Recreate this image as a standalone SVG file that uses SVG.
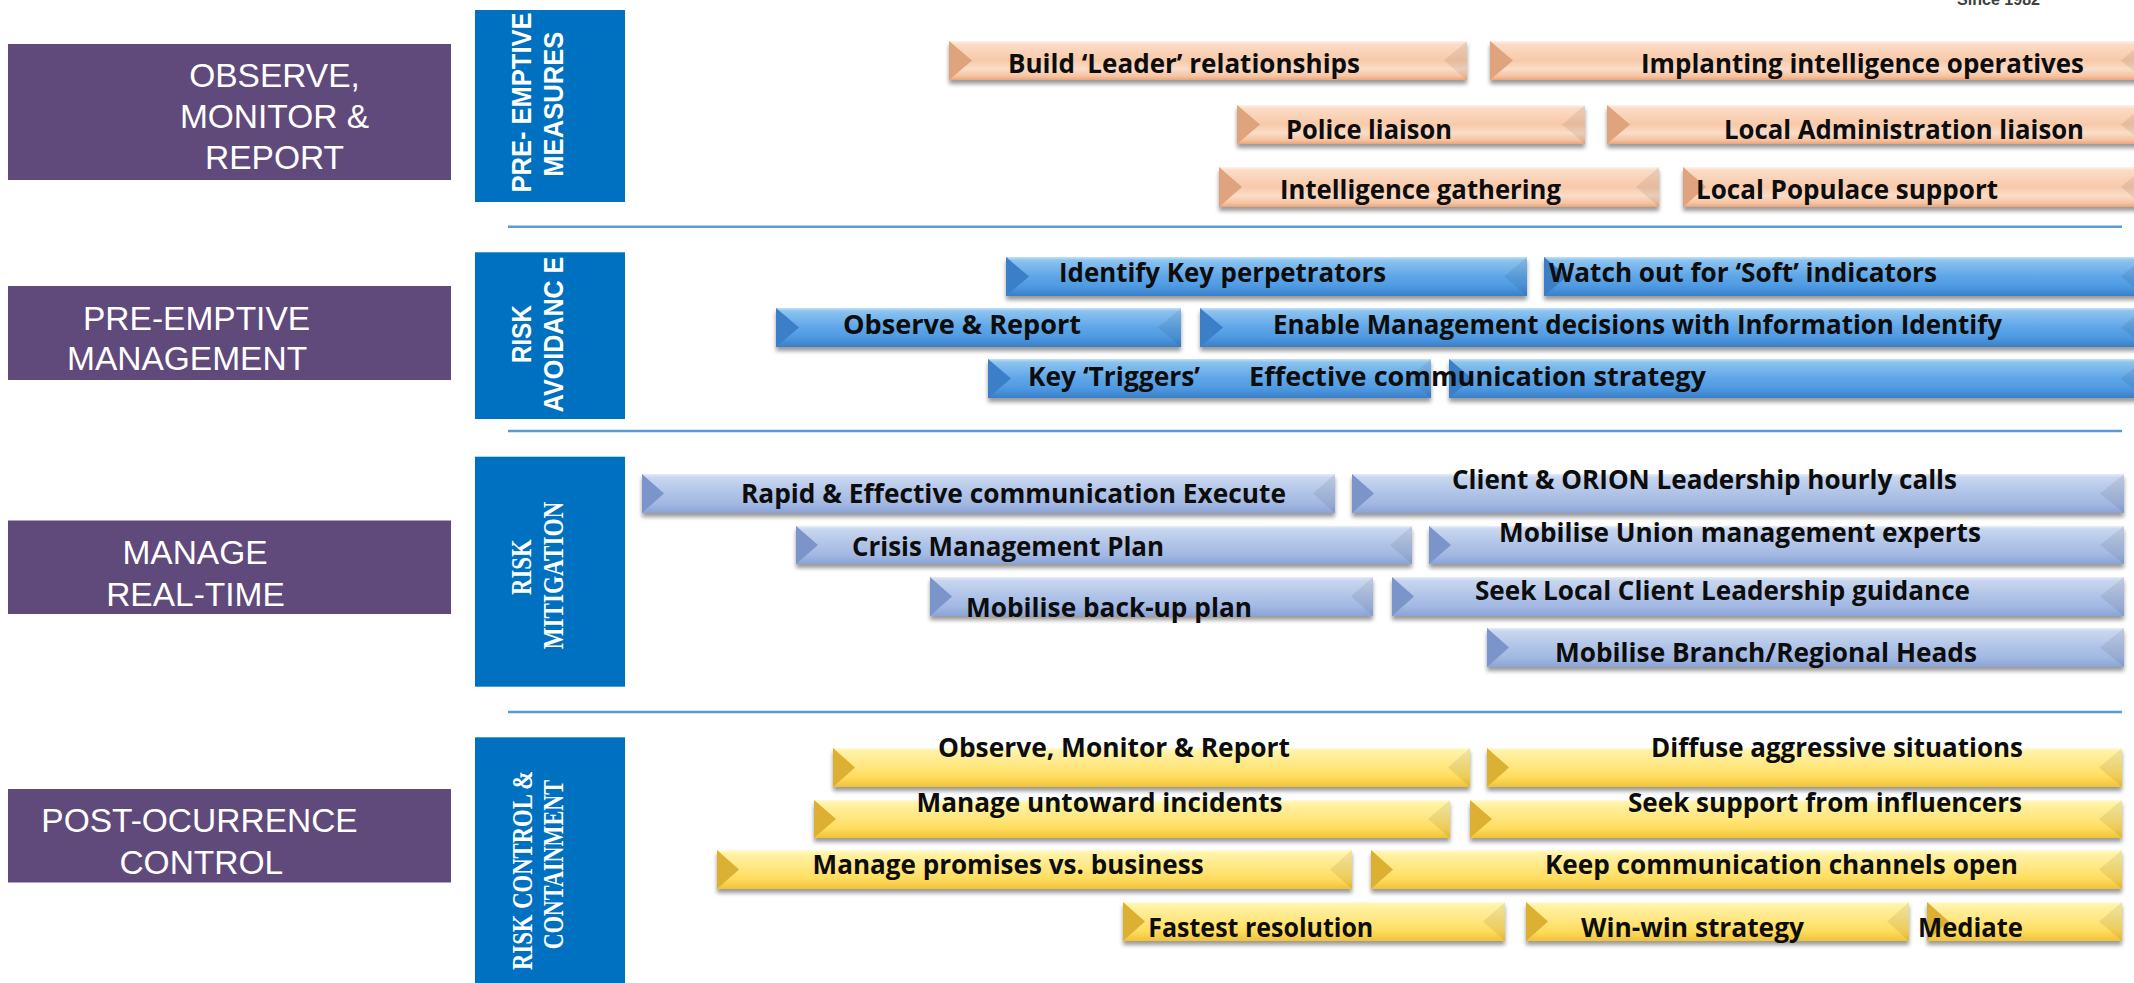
<svg xmlns="http://www.w3.org/2000/svg" width="2134" height="983" viewBox="0 0 2134 983">
<defs>
<style>
.stage rect{fill:#604A7B}
.stage text{font-family:"Liberation Sans",Arial,sans-serif;font-size:33.5px;fill:#fff}
.tag rect{fill:#0070C0}
.tag text{fill:#fff;font-weight:bold;text-anchor:middle}
.tag .ss{font-family:"Liberation Sans",Arial,sans-serif;font-size:28.5px}
.tag .sf{font-family:"Liberation Serif","Times New Roman",serif;font-size:30px}
.sep line{stroke:#5B9BD5;stroke-width:2.5}
.bar .face{filter:url(#sh)}
.bar .rb{fill:#000;fill-opacity:0.07}
.bar text{font-family:"Open Sans","Noto Sans",sans-serif;font-weight:bold;font-size:27px;fill:#0d0d0d}
.peach .face{fill:url(#gPeach)} .peach .lb{fill:#DFA37D}
.blue .face{fill:url(#gBlue)} .blue .lb{fill:#3A7FC8}
.steel .face{fill:url(#gSteel)} .steel .lb{fill:#7B94CA}
.yel .face{fill:url(#gYel)} .yel .lb{fill:#DCB033}
</style>
<filter id="sh" x="-5%" y="-30%" width="110%" height="190%">
<feDropShadow dx="0" dy="4" stdDeviation="2.2" flood-color="#000" flood-opacity="0.4"/>
</filter>
<linearGradient id="gPeach" x1="0" y1="0" x2="0" y2="1">
<stop offset="0" stop-color="#FEF3EA"/><stop offset="0.08" stop-color="#FBDCC6"/><stop offset="0.5" stop-color="#F8C9A9"/><stop offset="0.72" stop-color="#FADDC9"/><stop offset="0.9" stop-color="#F6C3A0"/><stop offset="1" stop-color="#E9A57C"/>
</linearGradient>
<linearGradient id="gBlue" x1="0" y1="0" x2="0" y2="1">
<stop offset="0" stop-color="#C4E1F8"/><stop offset="0.08" stop-color="#8CC3EF"/><stop offset="0.5" stop-color="#5EA6E8"/><stop offset="0.75" stop-color="#4E9AE2"/><stop offset="1" stop-color="#3A7FC8"/>
</linearGradient>
<linearGradient id="gSteel" x1="0" y1="0" x2="0" y2="1">
<stop offset="0" stop-color="#E6EDF8"/><stop offset="0.08" stop-color="#C9D7EF"/><stop offset="0.5" stop-color="#AFC3E7"/><stop offset="0.75" stop-color="#A3B9E3"/><stop offset="1" stop-color="#8BA4D6"/>
</linearGradient>
<linearGradient id="gYel" x1="0" y1="0" x2="0" y2="1">
<stop offset="0" stop-color="#FFFBDA"/><stop offset="0.08" stop-color="#FFF3A8"/><stop offset="0.5" stop-color="#FFE57C"/><stop offset="0.75" stop-color="#FFDC5C"/><stop offset="1" stop-color="#F0C238"/>
</linearGradient>
</defs>
<rect width="2134" height="983" fill="#fff"/>
<text x="1957" y="5" font-family="Liberation Sans,Arial,sans-serif" font-size="16" font-weight="bold" fill="#404040" textLength="83" lengthAdjust="spacingAndGlyphs">Since 1982</text>

<g id="separators" class="sep">
<line x1="508" y1="226.7" x2="2122" y2="226.7"/>
<line x1="508" y1="431" x2="2122" y2="431"/>
<line x1="508" y1="712" x2="2122" y2="712"/>
</g>

<g id="stage-observe" class="stage">
<rect x="8" y="44" width="443" height="136"/>
<text x="274.5" y="87.3" text-anchor="middle">OBSERVE,</text>
<text x="274.5" y="127.7" text-anchor="middle">MONITOR &amp;</text>
<text x="274.5" y="169.3" text-anchor="middle">REPORT</text>
</g>
<g id="stage-preemptive" class="stage">
<rect x="8" y="286" width="443" height="94"/>
<text x="83" y="330">PRE-EMPTIVE</text>
<text x="67" y="370">MANAGEMENT</text>
</g>
<g id="stage-manage" class="stage">
<rect x="8" y="520.5" width="443" height="93.5"/>
<text x="195" y="564.3" text-anchor="middle">MANAGE</text>
<text x="195.5" y="606" text-anchor="middle">REAL-TIME</text>
</g>
<g id="stage-post" class="stage">
<rect x="8" y="789" width="443" height="93.5"/>
<text x="199.5" y="831.8" text-anchor="middle">POST-OCURRENCE</text>
<text x="201.3" y="873.5" text-anchor="middle">CONTROL</text>
</g>

<g id="tag-measures" class="tag">
<rect x="475" y="10" width="150" height="192"/>
<text class="ss" transform="translate(531,102.5) rotate(-90)" textLength="180" lengthAdjust="spacingAndGlyphs">PRE- EMPTIVE</text>
<text class="ss" transform="translate(563.3,104.2) rotate(-90)" textLength="145" lengthAdjust="spacingAndGlyphs">MEASURES</text>
</g>
<g id="tag-avoidance" class="tag">
<rect x="475" y="252.3" width="150" height="166.7"/>
<text class="ss" transform="translate(531,334.2) rotate(-90)" textLength="58.3" lengthAdjust="spacingAndGlyphs">RISK</text>
<text class="ss" transform="translate(563.3,334.5) rotate(-90)" textLength="155.6" lengthAdjust="spacingAndGlyphs">AVOIDANC E</text>
</g>
<g id="tag-mitigation" class="tag">
<rect x="475" y="456.7" width="150" height="230"/>
<text class="sf" transform="translate(531,567.2) rotate(-90)" textLength="55.7" lengthAdjust="spacingAndGlyphs">RISK</text>
<text class="sf" transform="translate(562.7,575.5) rotate(-90)" textLength="147.7" lengthAdjust="spacingAndGlyphs">MITIGATION</text>
</g>
<g id="tag-control" class="tag">
<rect x="475" y="737.3" width="150" height="246"/>
<text class="sf" transform="translate(531.7,870.4) rotate(-90)" textLength="199.3" lengthAdjust="spacingAndGlyphs">RISK CONTROL &amp;</text>
<text class="sf" transform="translate(562.7,864.7) rotate(-90)" textLength="169.3" lengthAdjust="spacingAndGlyphs">CONTAINMENT</text>
</g>

<!-- Section 1: pre-emptive measures -->
<g id="n-build" class="bar peach">
<rect class="face" x="949" y="41" width="518" height="39"/>
<polygon class="lb" points="949,41 972,60.5 949,80"/><polygon class="rb" points="1467,41 1444,60.5 1467,80"/>
<text x="1008" y="72.7" textLength="352" lengthAdjust="spacingAndGlyphs">Build ‘Leader’ relationships</text>
</g>
<g id="n-implant" class="bar peach">
<rect class="face" x="1490" y="41" width="654" height="39"/>
<polygon class="lb" points="1490,41 1513,60.5 1490,80"/><polygon class="rb" points="2144,41 2121,60.5 2144,80"/>
<text x="1641" y="72.7" textLength="443" lengthAdjust="spacingAndGlyphs">Implanting intelligence operatives</text>
</g>
<g id="n-police" class="bar peach">
<rect class="face" x="1237" y="105" width="348" height="39"/>
<polygon class="lb" points="1237,105 1260,124.5 1237,144"/><polygon class="rb" points="1585,105 1562,124.5 1585,144"/>
<text x="1286" y="139.3" textLength="166" lengthAdjust="spacingAndGlyphs">Police liaison</text>
</g>
<g id="n-localadmin" class="bar peach">
<rect class="face" x="1607" y="105" width="537" height="39"/>
<polygon class="lb" points="1607,105 1630,124.5 1607,144"/><polygon class="rb" points="2144,105 2121,124.5 2144,144"/>
<text x="1724" y="139.3" textLength="360" lengthAdjust="spacingAndGlyphs">Local Administration liaison</text>
</g>
<g id="n-intel" class="bar peach">
<rect class="face" x="1219" y="167" width="440" height="40"/>
<polygon class="lb" points="1219,167 1242,187 1219,207"/><polygon class="rb" points="1659,167 1636,187 1659,207"/>
<text x="1280" y="199" textLength="281" lengthAdjust="spacingAndGlyphs">Intelligence gathering</text>
</g>
<g id="n-populace" class="bar peach">
<rect class="face" x="1683" y="167" width="461" height="40"/>
<polygon class="lb" points="1683,167 1706,187 1683,207"/><polygon class="rb" points="2144,167 2121,187 2144,207"/>
<text x="1696" y="199" textLength="302" lengthAdjust="spacingAndGlyphs">Local Populace support</text>
</g>

<!-- Section 2: risk avoidance -->
<g id="n-identify" class="bar blue">
<rect class="face" x="1006" y="257" width="521" height="39"/>
<polygon class="lb" points="1006,257 1029,276.5 1006,296"/><polygon class="rb" points="1527,257 1504,276.5 1527,296"/>
<text x="1059" y="281.7" textLength="327" lengthAdjust="spacingAndGlyphs">Identify Key perpetrators</text>
</g>
<g id="n-watch" class="bar blue">
<rect class="face" x="1544" y="257" width="600" height="39"/>
<polygon class="lb" points="1544,257 1567,276.5 1544,296"/><polygon class="rb" points="2144,257 2121,276.5 2144,296"/>
<text x="1549" y="281.7" textLength="388" lengthAdjust="spacingAndGlyphs">Watch out for ‘Soft’ indicators</text>
</g>
<g id="n-observe" class="bar blue">
<rect class="face" x="776" y="308" width="405" height="39"/>
<polygon class="lb" points="776,308 799,327.5 776,347"/><polygon class="rb" points="1181,308 1158,327.5 1181,347"/>
<text x="843" y="333.5" textLength="238" lengthAdjust="spacingAndGlyphs">Observe &amp; Report</text>
</g>
<g id="n-enable" class="bar blue">
<rect class="face" x="1200" y="308" width="944" height="39"/>
<polygon class="lb" points="1200,308 1223,327.5 1200,347"/><polygon class="rb" points="2144,308 2121,327.5 2144,347"/>
<text x="1273" y="333.5" textLength="729" lengthAdjust="spacingAndGlyphs">Enable Management decisions with Information Identify</text>
</g>
<g id="n-triggers" class="bar blue">
<rect class="face" x="988" y="359" width="443" height="39"/>
<polygon class="lb" points="988,359 1011,378.5 988,398"/><polygon class="rb" points="1431,359 1408,378.5 1431,398"/>
<text x="1028" y="385.5" textLength="172" lengthAdjust="spacingAndGlyphs">Key ‘Triggers’</text>
</g>
<g id="n-effective" class="bar blue">
<rect class="face" x="1449" y="359" width="695" height="39"/>
<polygon class="lb" points="1449,359 1472,378.5 1449,398"/><polygon class="rb" points="2144,359 2121,378.5 2144,398"/>
<text x="1249" y="385.5" textLength="457" lengthAdjust="spacingAndGlyphs">Effective communication strategy</text>
</g>

<!-- Section 3: risk mitigation -->
<g id="n-rapid" class="bar steel">
<rect class="face" x="642" y="474" width="693" height="39"/>
<polygon class="lb" points="642,474 664,493.5 642,513"/><polygon class="rb" points="1335,474 1313,493.5 1335,513"/>
<text x="741" y="503.3" textLength="545" lengthAdjust="spacingAndGlyphs">Rapid &amp; Effective communication Execute</text>
</g>
<g id="n-client" class="bar steel">
<rect class="face" x="1352" y="474" width="772" height="39"/>
<polygon class="lb" points="1352,474 1374,493.5 1352,513"/><polygon class="rb" points="2124,474 2100,493.5 2124,513"/>
<text x="1452" y="489.3" textLength="505" lengthAdjust="spacingAndGlyphs">Client &amp; ORION Leadership hourly calls</text>
</g>
<g id="n-crisis" class="bar steel">
<rect class="face" x="796" y="526" width="616" height="38"/>
<polygon class="lb" points="796,526 818,545 796,564"/><polygon class="rb" points="1412,526 1390,545 1412,564"/>
<text x="852" y="555.5" textLength="312" lengthAdjust="spacingAndGlyphs">Crisis Management Plan</text>
</g>
<g id="n-union" class="bar steel">
<rect class="face" x="1429" y="526" width="695" height="38"/>
<polygon class="lb" points="1429,526 1451,545 1429,564"/><polygon class="rb" points="2124,526 2100,545 2124,564"/>
<text x="1499" y="541.5" textLength="482" lengthAdjust="spacingAndGlyphs">Mobilise Union management experts</text>
</g>
<g id="n-backup" class="bar steel">
<rect class="face" x="930" y="577" width="443" height="39"/>
<polygon class="lb" points="930,577 952,596.5 930,616"/><polygon class="rb" points="1373,577 1351,596.5 1373,616"/>
<text x="966" y="617" textLength="286" lengthAdjust="spacingAndGlyphs">Mobilise back-up plan</text>
</g>
<g id="n-seeklocal" class="bar steel">
<rect class="face" x="1392" y="577" width="732" height="39"/>
<polygon class="lb" points="1392,577 1414,596.5 1392,616"/><polygon class="rb" points="2124,577 2100,596.5 2124,616"/>
<text x="1475" y="600" textLength="495" lengthAdjust="spacingAndGlyphs">Seek Local Client Leadership guidance</text>
</g>
<g id="n-branch" class="bar steel">
<rect class="face" x="1487" y="628" width="637" height="39"/>
<polygon class="lb" points="1487,628 1509,647.5 1487,667"/><polygon class="rb" points="2124,628 2100,647.5 2124,667"/>
<text x="1555" y="661.7" textLength="422" lengthAdjust="spacingAndGlyphs">Mobilise Branch/Regional Heads</text>
</g>

<!-- Section 4: risk control & containment -->
<g id="n-omr" class="bar yel">
<rect class="face" x="833" y="748" width="637" height="39"/>
<polygon class="lb" points="833,748 855,767.5 833,787"/><polygon class="rb" points="1470,748 1448,767.5 1470,787"/>
<text x="938" y="757.3" textLength="352" lengthAdjust="spacingAndGlyphs">Observe, Monitor &amp; Report</text>
</g>
<g id="n-diffuse" class="bar yel">
<rect class="face" x="1487" y="748" width="635" height="39"/>
<polygon class="lb" points="1487,748 1509,767.5 1487,787"/><polygon class="rb" points="2122,748 2099,767.5 2122,787"/>
<text x="1651" y="757.3" textLength="372" lengthAdjust="spacingAndGlyphs">Diffuse aggressive situations</text>
</g>
<g id="n-untoward" class="bar yel">
<rect class="face" x="814" y="800" width="636" height="38"/>
<polygon class="lb" points="814,800 836,819 814,838"/><polygon class="rb" points="1450,800 1428,819 1450,838"/>
<text x="916.5" y="811.7" textLength="366" lengthAdjust="spacingAndGlyphs">Manage untoward incidents</text>
</g>
<g id="n-influencers" class="bar yel">
<rect class="face" x="1470" y="800" width="652" height="38"/>
<polygon class="lb" points="1470,800 1492,819 1470,838"/><polygon class="rb" points="2122,800 2099,819 2122,838"/>
<text x="1628" y="811.7" textLength="394" lengthAdjust="spacingAndGlyphs">Seek support from influencers</text>
</g>
<g id="n-promises" class="bar yel">
<rect class="face" x="717" y="850" width="635" height="39"/>
<polygon class="lb" points="717,850 739,869.5 717,889"/><polygon class="rb" points="1352,850 1330,869.5 1352,889"/>
<text x="812.6" y="874" textLength="391" lengthAdjust="spacingAndGlyphs">Manage promises vs. business</text>
</g>
<g id="n-keepcomm" class="bar yel">
<rect class="face" x="1371" y="850" width="751" height="39"/>
<polygon class="lb" points="1371,850 1393,869.5 1371,889"/><polygon class="rb" points="2122,850 2099,869.5 2122,889"/>
<text x="1545" y="874" textLength="473" lengthAdjust="spacingAndGlyphs">Keep communication channels open</text>
</g>
<g id="n-fastest" class="bar yel">
<rect class="face" x="1123" y="902" width="382" height="39"/>
<polygon class="lb" points="1123,902 1145,921.5 1123,941"/><polygon class="rb" points="1505,902 1483,921.5 1505,941"/>
<text x="1148.3" y="936.7" textLength="225" lengthAdjust="spacingAndGlyphs">Fastest resolution</text>
</g>
<g id="n-winwin" class="bar yel">
<rect class="face" x="1526" y="902" width="383" height="39"/>
<polygon class="lb" points="1526,902 1548,921.5 1526,941"/><polygon class="rb" points="1909,902 1887,921.5 1909,941"/>
<text x="1581" y="936.7" textLength="223" lengthAdjust="spacingAndGlyphs">Win-win strategy</text>
</g>
<g id="n-mediate" class="bar yel">
<rect class="face" x="1927" y="902" width="195" height="39"/>
<polygon class="lb" points="1927,902 1949,921.5 1927,941"/><polygon class="rb" points="2122,902 2099,921.5 2122,941"/>
<text x="1918" y="936.7" textLength="105" lengthAdjust="spacingAndGlyphs">Mediate</text>
</g>
</svg>
